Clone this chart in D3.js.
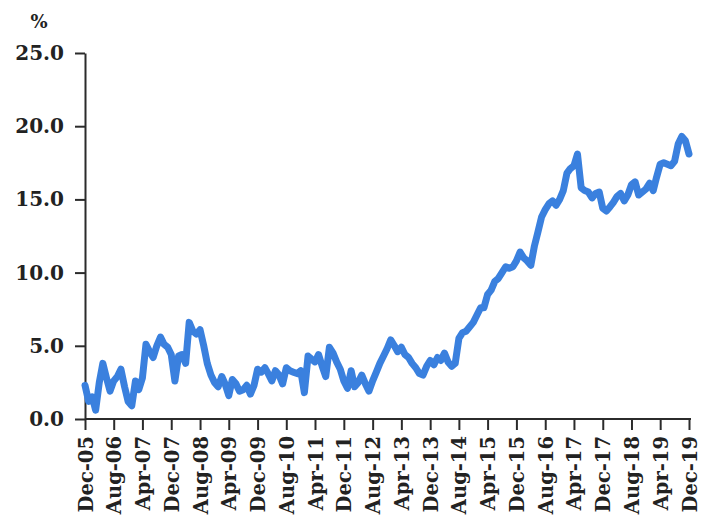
<!DOCTYPE html>
<html>
<head>
<meta charset="utf-8">
<script src="https://cdn.jsdelivr.net/npm/d3@7"></script>
<style>
  body { margin: 0; background: #fff; }
  .axis text { font-family: "DejaVu Serif", serif; font-weight: bold; fill: #222; }
  .axis path, .axis line { stroke: #2b2b2b; stroke-width: 2; }
</style>
</head>
<body>
<div id="graph"></div>
<script>
// monthly share, Dec-05 .. Dec-19
const startMonth = "Dec-05";
const values = [
  2.3, 1.2, 1.5, 0.6, 2.5, 3.8, 2.8, 1.9, 2.6, 2.9, 3.4, 2.2,
  1.2, 0.9, 2.6, 2.0, 2.8, 5.1, 4.6, 4.2, 5.0, 5.6, 5.1, 4.9,
  4.4, 2.6, 4.3, 4.4, 3.8, 6.6, 6.0, 5.8, 6.1, 5.0, 3.8, 3.0,
  2.5, 2.2, 2.9, 2.4, 1.6, 2.7, 2.4, 1.9, 2.0, 2.3, 1.7, 2.3,
  3.4, 3.2, 3.5, 3.1, 2.6, 3.3, 3.0, 2.4, 3.5, 3.3, 3.2, 3.1,
  3.3, 1.8, 4.3, 4.1, 3.9, 4.4, 3.6, 2.9, 4.9, 4.5, 3.9, 3.4,
  2.6, 2.1, 3.3, 2.2, 2.5, 3.0, 2.4, 1.9, 2.6, 3.2, 3.8, 4.3,
  4.8, 5.4, 5.0, 4.6, 4.9, 4.4, 4.2, 3.8, 3.5, 3.1, 3.0, 3.6,
  4.0, 3.7, 4.2, 4.0, 4.5, 3.9, 3.6, 3.8, 5.5, 5.9, 6.0, 6.3,
  6.6, 7.1, 7.6, 7.6, 8.5, 8.8, 9.4, 9.6, 10.0, 10.4, 10.3, 10.4,
  10.8, 11.4, 11.0, 10.8, 10.5, 11.8, 12.8, 13.8, 14.3, 14.7, 14.9, 14.6,
  15.0, 15.6, 16.8, 17.1, 17.3, 18.1, 15.8, 15.6, 15.5, 15.1, 15.4, 15.5,
  14.4, 14.2, 14.5, 14.8, 15.2, 15.4, 14.9, 15.3, 16.0, 16.2, 15.3, 15.5,
  15.7, 16.1, 15.6, 16.5, 17.4, 17.5, 17.4, 17.3, 17.6, 18.8, 19.3, 19.0,
  18.1
];
const tickLabels = ["Dec-05","Aug-06","Apr-07","Dec-07","Aug-08","Apr-09","Dec-09","Aug-10",
  "Apr-11","Dec-11","Aug-12","Apr-13","Dec-13","Aug-14","Apr-15","Dec-15","Aug-16","Apr-17",
  "Dec-17","Aug-18","Apr-19","Dec-19"];
const yTicks = [0, 5, 10, 15, 20, 25];

document.addEventListener('DOMContentLoaded', () => {
  let width = 712, height = 516;
  let left = 85, right = 689, top = 53, bottom = 419;

  let parse = d3.timeParse("%b-%y");
  let start = parse(startMonth);
  let data = values.map((v, i) => ({date: d3.timeMonth.offset(start, i), v: v}));

  let x = d3.scaleTime().domain([start, parse(tickLabels[tickLabels.length-1])]).range([left, right]);
  let y = d3.scaleLinear().domain([0, 25]).range([bottom, top]);

  let svg = d3.select("#graph").append("svg").attr("width", width).attr("height", height);

  let xAxis = d3.axisBottom(x)
    .tickValues(tickLabels.map(parse))
    .tickFormat(d3.timeFormat("%b-%y"))
    .tickSize(11).tickSizeOuter(0).tickPadding(6);
  let gx = svg.append("g").attr("class", "axis").attr("transform", "translate(0," + bottom + ")").call(xAxis);
  gx.select(".domain").attr("d", "M" + left + ",0H" + (right + 2));
  gx.selectAll("text")
    .style("font-size", "19.5px")
    .attr("text-anchor", "end")
    .attr("transform", "rotate(-90)")
    .attr("x", -17).attr("y", 0).attr("dy", "0.36em");

  let yAxis = d3.axisLeft(y).tickValues(yTicks).tickFormat(d3.format(".1f"))
    .tickSize(10).tickSizeOuter(0).tickPadding(11);
  let gy = svg.append("g").attr("class", "axis").attr("transform", "translate(" + left + ",0)").call(yAxis);
  gy.selectAll("text").style("font-size", "20px");

  svg.append("text").attr("class", "axis")
    .attr("x", 39).attr("y", 28).attr("text-anchor", "middle")
    .style("font-family", "DejaVu Serif, serif").style("font-weight", "bold")
    .style("font-size", "18px").style("fill", "#222")
    .text("%");

  let line = d3.line().x(d => x(d.date)).y(d => y(d.v)).curve(d3.curveLinear);
  svg.append("path").datum(data)
    .attr("fill", "none").attr("stroke", "#3a80de")
    .attr("stroke-width", 7).attr("stroke-linejoin", "round").attr("stroke-linecap", "round")
    .attr("d", line);
});
</script>
</body>
</html>
